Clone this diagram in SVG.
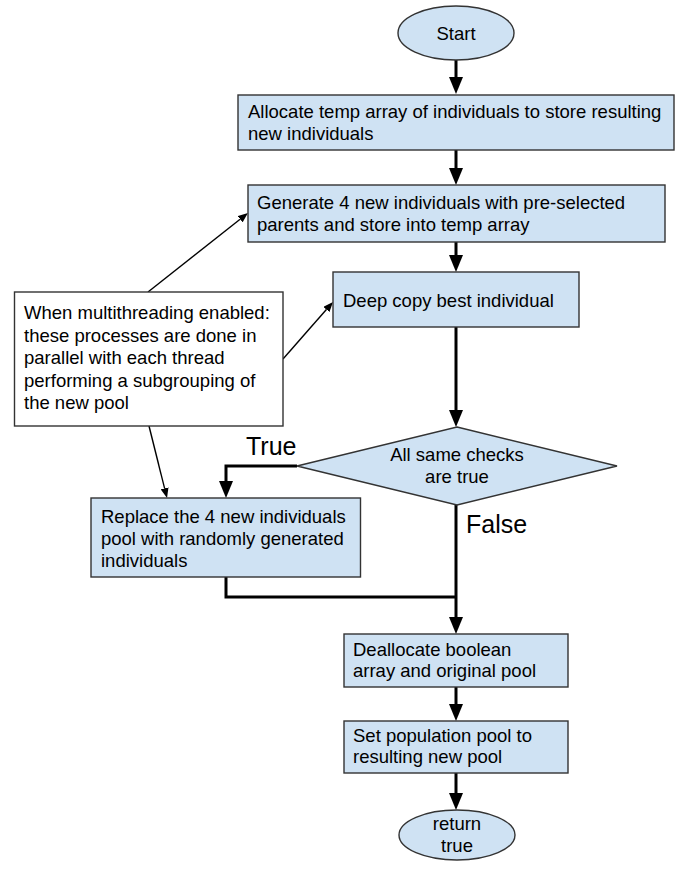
<svg xmlns="http://www.w3.org/2000/svg" width="688" height="880" viewBox="0 0 688 880">
<defs>
<style>
.n{fill:#cfe2f3;stroke:#333;stroke-width:1.4}
.w{fill:#fff;stroke:#333;stroke-width:1.4}
text{font-family:"Liberation Sans",Arial,sans-serif;font-size:18.5px;fill:#000}
.c{text-anchor:middle}
.big{font-size:25px}
.thick{fill:none;stroke:#000;stroke-width:3}
.thin{fill:none;stroke:#000;stroke-width:1.4}
</style>
<marker id="ah" viewBox="0 0 17 14" refX="0" refY="7" markerWidth="17" markerHeight="14" markerUnits="userSpaceOnUse" orient="auto">
<path d="M0,0 L17,7 L0,14 Z" fill="#000"/>
</marker>
<marker id="at" viewBox="0 0 10 8" refX="0" refY="4" markerWidth="10" markerHeight="8" markerUnits="userSpaceOnUse" orient="auto">
<path d="M0,0 L10,4 L0,8 Z" fill="#000"/>
</marker>
</defs>
<rect width="688" height="880" fill="#fff"/>
<g id="connectors">
<path class="thick" d="M456,60 V77" marker-end="url(#ah)"/>
<path class="thick" d="M456,150 V168" marker-end="url(#ah)"/>
<path class="thick" d="M456,242 V255" marker-end="url(#ah)"/>
<path class="thick" d="M456,327 V410" marker-end="url(#ah)"/>
<path class="thick" d="M297,466 H226 V481" marker-end="url(#ah)"/>
<path class="thick" d="M456,505 V617" marker-end="url(#ah)"/>
<path class="thick" d="M226,577 V597 H456"/>
<path class="thick" d="M456,687 V704" marker-end="url(#ah)"/>
<path class="thick" d="M456,773 V793" marker-end="url(#ah)"/>
<path class="thin" d="M148,292 L240.1,219.2" marker-end="url(#at)"/>
<path class="thin" d="M283,359 L326.4,309.5" marker-end="url(#at)"/>
<path class="thin" d="M149,426 L164.6,488.3" marker-end="url(#at)"/>
<text class="big" x="246" y="455">True</text>
<text class="big" x="466" y="533">False</text>
</g>
<g id="start">
<ellipse class="n" cx="456" cy="33" rx="58" ry="27"/>
<text class="c" x="456" y="40">Start</text>
</g>
<g id="allocate">
<rect class="n" x="238" y="95" width="436" height="55"/>
<text x="248" y="118">Allocate temp array of individuals to store resulting</text>
<text x="248" y="140">new individuals</text>
</g>
<g id="generate">
<rect class="n" x="248" y="185" width="417" height="57"/>
<text x="257" y="209">Generate 4 new individuals with pre-selected</text>
<text x="257" y="231">parents and store into temp array</text>
</g>
<g id="deepcopy">
<rect class="n" x="333" y="272" width="246" height="55"/>
<text x="343" y="307">Deep copy best individual</text>
</g>
<g id="note">
<rect class="w" x="14.5" y="292" width="268.5" height="134"/>
<text x="24" y="319">When multithreading enabled:</text>
<text x="24" y="341.5">these processes are done in</text>
<text x="24" y="364">parallel with each thread</text>
<text x="24" y="386.5">performing a subgrouping of</text>
<text x="24" y="409">the new pool</text>
</g>
<g id="decision">
<polygon class="n" points="457,427 617,466 457,505 297,466"/>
<text class="c" x="457" y="461">All same checks</text>
<text class="c" x="457" y="483">are true</text>
</g>
<g id="replace">
<rect class="n" x="91" y="498" width="269.5" height="79"/>
<text x="101" y="523">Replace the 4 new individuals</text>
<text x="101" y="545">pool with randomly generated</text>
<text x="101" y="567">individuals</text>
</g>
<g id="deallocate">
<rect class="n" x="344" y="634" width="224" height="53"/>
<text x="353" y="656">Deallocate boolean</text>
<text x="353" y="677">array and original pool</text>
</g>
<g id="setpool">
<rect class="n" x="344" y="721" width="224" height="52"/>
<text x="353" y="742">Set population pool to</text>
<text x="353" y="763">resulting new pool</text>
</g>
<g id="return">
<ellipse class="n" cx="457" cy="835" rx="58" ry="25"/>
<text class="c" x="457" y="830">return</text>
<text class="c" x="457" y="852">true</text>
</g>
</svg>
